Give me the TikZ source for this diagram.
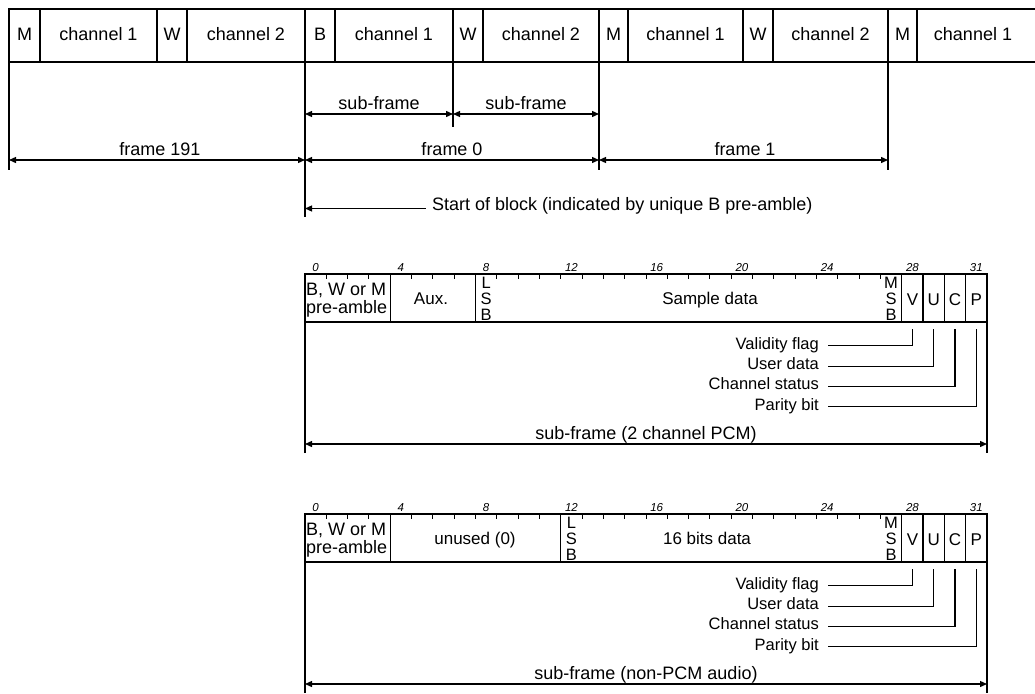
\documentclass[tikz,border=0pt]{standalone}
\usepackage{fontspec}
\setmainfont{Liberation Sans}
\usetikzlibrary{arrows.meta,calc}
\tikzset{
  every node/.style={inner sep=0pt},
  f18/.style={font=\fontsize{18}{20}\selectfont},
  f17/.style={font=\fontsize{17}{20}\selectfont},
  f16/.style={font=\fontsize{16.5}{18}\selectfont},
  ticklbl/.style={font=\fontsize{11.5}{12}\selectfont\itshape, anchor=base},
  dimline/.style={line width=1.3pt, {Triangle[length=7pt,width=6pt]}-{Triangle[length=7pt,width=6pt]}},
  leftarrow/.style={line width=1.3pt, {Triangle[length=7pt,width=6pt]}-},
  leader/.style={f16, anchor=east, text height=7pt, text depth=0pt},
  thin/.style={line width=1.2pt},
  thick1/.style={line width=1.5pt},
}
% #1 LSB bit, #2 aux text, #3 aux centre, #4 data text, #5 data centre, #6 bottom label
\newcommand{\subframebox}[6]{%
  \draw[thin] (305,453) -- (305,274) -- (987,274) -- (987,453);
  \draw[thin] (305,322) -- (987,322);
  \foreach \b in {4,#1,28,29,30,31}
    \draw[thin] ({305+21.3125*\b},274) -- ({305+21.3125*\b},322);
  \foreach \b in {1,...,27}
    \draw[line width=1pt] ({305+21.3125*\b},273) -- ({305+21.3125*\b},279);
  \foreach \b in {0,4,8,12,16,20,24,28,31}
    \node[ticklbl] at ({305+21.3125*(\b+0.5)},271.5) {\b};
  \node[f18, anchor=base west] (pre) at (306,295) {B, W or M};
  \node[f18, anchor=base west] (pre2) at (306,313.5) {pre-amble};
  \node[f17, anchor=base] (aux) at (#3,304.5) {#2};
  \node[f16, anchor=base] (lsbL) at ({305+21.3125*(#1+0.5)},288.2) {L};
  \node[f16, anchor=base] (lsbS) at ({305+21.3125*(#1+0.5)},304.5) {S};
  \node[f16, anchor=base] (lsbB) at ({305+21.3125*(#1+0.5)},320.7) {B};
  \node[f17, anchor=base] (data) at (#5,304.5) {#4};
  \node[f16, anchor=base] (msbM) at ({305+21.3125*27.5},288.2) {M};
  \node[f16, anchor=base] (msbS) at ({305+21.3125*27.5},304.5) {S};
  \node[f16, anchor=base] (msbB) at ({305+21.3125*27.5},320.7) {B};
  \node[f17, anchor=base] (bV) at ({305+21.3125*28.5},305) {V};
  \node[f17, anchor=base] (bU) at ({305+21.3125*29.5},305) {U};
  \node[f17, anchor=base] (bC) at ({305+21.3125*30.5},305) {C};
  \node[f17, anchor=base] (bP) at ({305+21.3125*31.5},305) {P};
  \node[leader] (vf) at (819,345.7) {Validity flag};
  \node[leader] (ud) at (819,366.3) {User data};
  \node[leader] (cs) at (819,386.3) {Channel status};
  \node[leader] (pb) at (819,406.7) {Parity bit};
  \coordinate (vbit) at ({305+21.3125*28.5},329);
  \coordinate (ubit) at ({305+21.3125*29.5},329);
  \coordinate (cbit) at ({305+21.3125*30.5},329);
  \coordinate (pbit) at ({305+21.3125*31.5},329);
  \draw[thin] ($(vf.east)+(9,0)$) -| (vbit);
  \draw[thin] ($(ud.east)+(9,0)$) -| (ubit);
  \draw[thin] ($(cs.east)+(9,0)$) -| (cbit);
  \draw[thin] ($(pb.east)+(9,0)$) -| (pbit);
  \node[f18, anchor=base] (sflbl) at (646,439) {#6};
  \coordinate (sfl) at (305,444);
  \coordinate (sfr) at (987,444);
  \draw[dimline] (sfl) -- (sfr);
}
\begin{document}
\begin{tikzpicture}[x=1pt,y=-1pt]
\useasboundingbox (0,0) rectangle (1035,693);
% ---------- top row ----------
\draw[thick1] (9,62) -- (9,9) -- (1035,9);
\draw[thick1] (9,62) -- (1035,62);
\foreach \x in {40,157,187,305,335,453,483,599,628,743,773,888,917}
  \draw[thick1] (\x,9) -- (\x,62);
\foreach \x/\t/\n in {24.5/M/t1,98.5/channel 1/t2,172/W/t3,246/channel 2/t4,
  320/B/t5,394/channel 1/t6,468/W/t7,541/channel 2/t8,
  613.5/M/t9,685.5/channel 1/t10,758/W/t11,830.5/channel 2/t12,
  902.5/M/t13,973/channel 1/t14}
  \node[f18, anchor=base] (\n) at (\x,41) {\t};
% frame boundary lines
\draw[thick1] (9,62) -- (9,170);
\draw[thick1] (305,62) -- (305,217);
\draw[thick1] (453,62) -- (453,127);
\draw[thick1] (599,62) -- (599,170);
\draw[thick1] (888,62) -- (888,170);
% sub-frame arrows
\coordinate (s0) at (305,114);
\coordinate (s1) at (453,114);
\coordinate (s2) at (599,114);
\draw[dimline] (s0) -- (s1);
\draw[dimline] (s1) -- (s2);
\node[f18, anchor=base] (sf1) at (379,109) {sub-frame};
\node[f18, anchor=base] (sf2) at (526,109) {sub-frame};
% frame arrows
\coordinate (fa) at (9,160);
\coordinate (fb) at (305,160);
\coordinate (fc) at (599,160);
\coordinate (fd) at (888,160);
\draw[dimline] (fa) -- (fb);
\draw[dimline] (fb) -- (fc);
\draw[dimline] (fc) -- (fd);
\node[f18, anchor=base] (fr191) at (160,155) {frame 191};
\node[f18, anchor=base] (fr0) at (452,155) {frame 0};
\node[f18, anchor=base] (fr1) at (745,155) {frame 1};
% start of block
\coordinate (sob) at (305,208.5);
\node[f18, anchor=base west] (sobt) at (432,210.7) {Start of block (indicated by unique B pre-amble)};
\draw[leftarrow] (sob) -- ($(sobt.west |- sob)+(-6,0)$);
% ---------- sub-frame layouts ----------
\begin{scope}[name prefix=a-]
\subframebox{8}{Aux.}{431}{Sample data}{710}{sub-frame (2 channel PCM)}
\end{scope}
\begin{scope}[shift={(0,240)}, name prefix=b-]
\subframebox{12}{unused (0)}{475}{16 bits data}{707}{sub-frame (non-PCM audio)}
\end{scope}
\end{tikzpicture}
\end{document}
